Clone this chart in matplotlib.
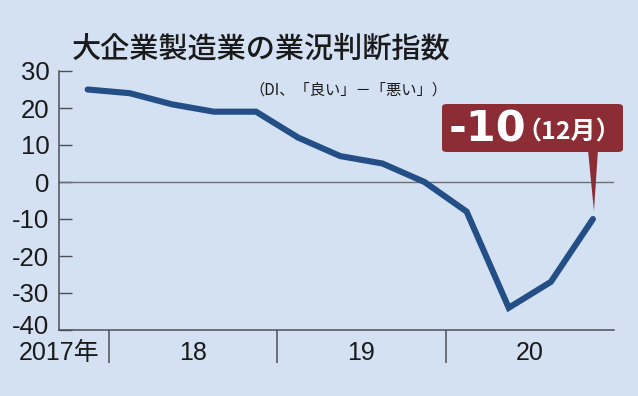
import matplotlib
matplotlib.use("Agg")
import matplotlib.pyplot as plt
from matplotlib.patches import FancyBboxPatch, Polygon
from matplotlib.transforms import ScaledTranslation
from matplotlib import font_manager

# ---- data ----
quarters = ["2017-12", "2018-03", "2018-06", "2018-09", "2018-12",
            "2019-03", "2019-06", "2019-09", "2019-12",
            "2020-03", "2020-06", "2020-09", "2020-12"]
di_values = [25, 24, 21, 19, 19, 12, 7, 5, 0, -8, -34, -27, -10]
year_labels = ["2017年", "18", "19", "20"]
y_ticks = [30, 20, 10, 0, -10, -20, -30, -40]
title = "大企業製造業の業況判断指数"
subtitle = "（DI、「良い」－「悪い」）"
callout_value = "-10"
callout_month = "（12月）"

# ---- styling ----
BG = "#D3E1F2"
LINE = "#234F86"
AXC = "#4A4F57"
BOX = "#8C2C35"

names = {f.name for f in font_manager.fontManager.ttflist}
narrow = "Liberation Sans Narrow" if "Liberation Sans Narrow" in names else "Liberation Sans"
fam_num = [narrow, "Noto Sans CJK JP", "DejaVu Sans"]
fam_jp = ["Noto Sans CJK JP", "DejaVu Sans"]

W, H = 638, 396
fig = plt.figure(figsize=(W / 100, H / 100), dpi=100, facecolor=BG)
ax = fig.add_axes([59 / W, 1 - 330 / H, (614 - 59) / W, (330 - 71) / H])
ax.set_facecolor(BG)

x = list(range(len(di_values)))
ax.plot(x, di_values, color=LINE, lw=4.4, solid_joinstyle="miter",
        solid_capstyle="round", zorder=3)
ax.axhline(0, color="#6A6F78", lw=1.0, zorder=2)

ax.set_xlim(-0.5, 12.5)
ax.set_ylim(-40, 30)

for s in ["top", "right"]:
    ax.spines[s].set_visible(False)
for s in ["left", "bottom"]:
    ax.spines[s].set_color(AXC)
    ax.spines[s].set_linewidth(1.1)

ax.set_yticks(y_ticks)
ax.set_yticklabels([str(v) for v in y_ticks])
ax.tick_params(axis="y", direction="in", length=9.5, width=1.0, color=AXC,
               pad=7, labelsize=18.5, labelcolor="#1a1a1a")
for lab in ax.get_yticklabels():
    lab.set_family(fam_num)
# lowest label sits slightly above the baseline as in the reference
low = ax.get_yticklabels()[-1]
low.set_transform(low.get_transform() + ScaledTranslation(0, 6 / 100, fig.dpi_scale_trans))

# year labels and separators
ax.set_xticks([-0.68, 2.5, 6.5, 10.5])
ax.set_xticklabels(year_labels)
ax.tick_params(axis="x", length=0, pad=8, labelsize=18, labelcolor="#1a1a1a")
for lab in ax.get_xticklabels():
    lab.set_family(fam_num)
ax.set_xticks([0.5, 4.5, 8.5], minor=True)
ax.tick_params(axis="x", which="minor", direction="out", length=24,
               width=1.1, color=AXC)

# title
fig.text(261 / W, 1 - 49 / H, title, family=fam_jp, fontsize=21,
         fontweight="medium", ha="center", va="center", color="#1a1a1a")
fig.text(447 / W, 1 - 90 / H, subtitle, family=fam_jp, fontsize=11,
         ha="right", va="center", color="#1a1a1a")

# callout
bx0, bx1, by0, by1 = 442, 623, 104, 152
box = FancyBboxPatch((bx0 / W, 1 - by1 / H), (bx1 - bx0) / W, (by1 - by0) / H,
                     boxstyle="round,pad=0,rounding_size=0.008",
                     transform=fig.transFigure, facecolor=BOX, edgecolor="none",
                     zorder=5)
fig.patches.append(box)
# pointer to last data point
px, py = ax.transData.transform((x[-1], di_values[-1]))
tip = fig.transFigure.inverted().transform((px + 1, py + 8))
tri = Polygon([(588 / W, 1 - 150 / H), (598 / W, 1 - 150 / H), (tip[0], tip[1])],
              closed=True, transform=fig.transFigure, facecolor=BOX,
              edgecolor="none", zorder=5)
fig.patches.append(tri)
fig.text(449 / W, 1 - 129 / H, callout_value, family=["DejaVu Sans"],
         fontsize=31, fontweight="bold", color="white", ha="left",
         va="center", zorder=6)
fig.text(621 / W, 1 - 133 / H, callout_month, family=fam_jp, fontsize=18,
         fontweight="bold", color="white", ha="right", va="center", zorder=6)

fig.savefig("out.png", dpi=100, facecolor=BG)
